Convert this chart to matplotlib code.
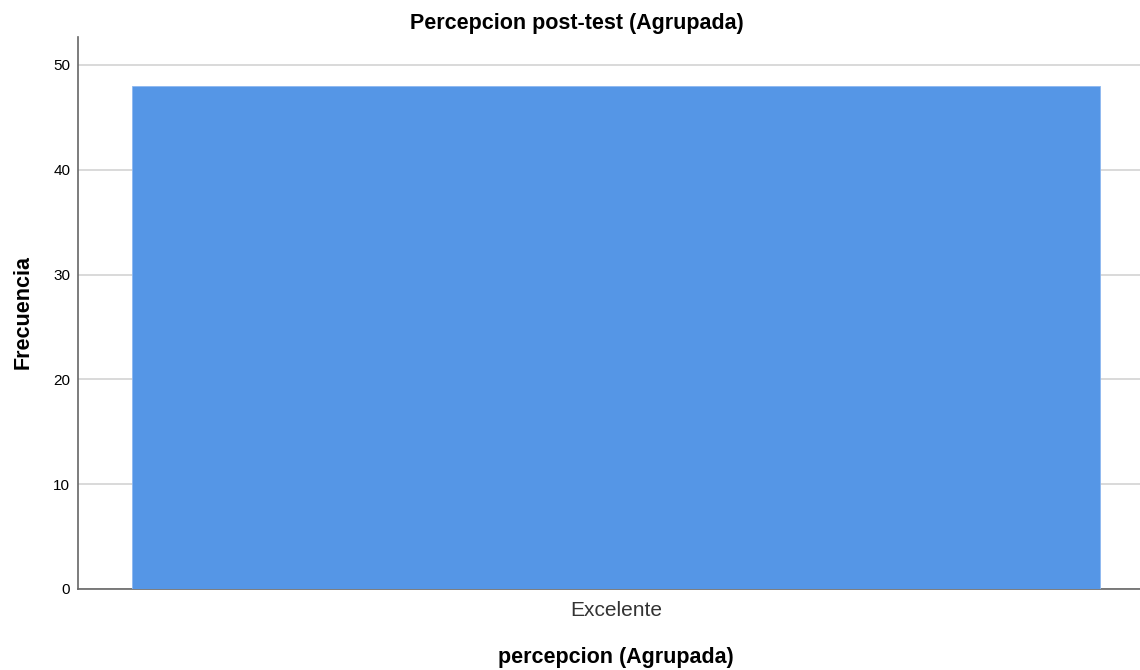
import matplotlib.pyplot as plt

plt.rcParams["font.family"] = ["Liberation Sans", "DejaVu Sans"]

categories = ["Excelente"]
counts = [48]
y_ticks = [0, 10, 20, 30, 40, 50]

title = "Percepcion post-test (Agrupada)"
x_label = "percepcion (Agrupada)"
y_label = "Frecuencia"

fig = plt.figure(figsize=(11.4, 6.7), dpi=100)
ax = fig.add_axes([78 / 1140, 81 / 670, 1062 / 1140, 552 / 670])

x = list(range(len(categories)))
ax.bar(x, counts, width=1.0, color="#5596E6", edgecolor="#8DB8F0", linewidth=0.6, zorder=3)

ax.set_xlim(-0.5 - 54 / 968, 0.5 + 40 / 968)
ax.set_ylim(0, 52.67)
ax.set_yticks(y_ticks)
ax.set_xticks(x)
ax.set_xticklabels(categories, fontsize=15, color="#333333")
ax.tick_params(axis="y", length=0, labelsize=11, pad=5.5)
ax.tick_params(axis="x", length=0, pad=9)
ax.grid(axis="y", color="#d9d9d9", linewidth=1.4, zorder=0)

for side in ["top", "right"]:
    ax.spines[side].set_visible(False)
for side in ["left", "bottom"]:
    ax.spines[side].set_color("#666666")
    ax.spines[side].set_linewidth(1.2)

fig.text(577 / 1140, 1 - 23 / 670, title, ha="center", va="center", fontsize=15.5, fontweight="bold")
fig.text(616 / 1140, 1 - 658 / 670, x_label, ha="center", va="center", fontsize=15.5, fontweight="bold")
fig.text(23 / 1140, 1 - 312 / 670, y_label, ha="center", va="center", rotation=90, fontsize=15.5, fontweight="bold")

fig.savefig("out.png", dpi=100)
plt.close(fig)
